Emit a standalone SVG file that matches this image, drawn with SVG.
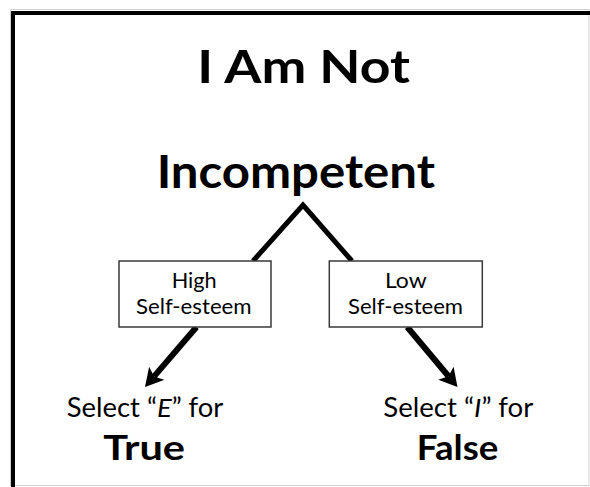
<svg xmlns="http://www.w3.org/2000/svg" width="590" height="487" viewBox="0 0 590 487">
  <style>
    .t { font-family: "Lato", "Open Sans", "Liberation Sans", sans-serif; fill: #000; }
    .title { font-size: 45px; font-weight: bold; }
    .box-text { font-size: 21px; }
    .sel { font-size: 26px; }
    .ans { font-size: 35px; font-weight: bold; }
    .box { fill: #fff; stroke: #3a3a3a; stroke-width: 1.5; }
    .conn { fill: none; stroke: #000; stroke-linecap: butt; }
  </style>
  <defs>
    <marker id="arrow" markerUnits="userSpaceOnUse" viewBox="0 -10 18 20" refX="4" refY="0" markerWidth="18" markerHeight="20" orient="auto">
      <path d="M0,-10 L18,0 L0,10 L4,0 Z" fill="#000"/>
    </marker>
  </defs>
  <rect width="590" height="487" fill="#fff"/>
  <!-- outer frame -->
  <rect x="10.5" y="9.5" width="578.5" height="476" fill="none" stroke="#cfcfcf" stroke-width="1"/>
  <rect x="13" y="13" width="640" height="520" fill="none" stroke="#000" stroke-width="4"/>

  <g id="connectors">
    <polyline class="conn" points="253,261 303,205 352,261" stroke-width="5" stroke-linejoin="miter"/>
    <line class="conn" x1="196.5" y1="327" x2="154.1" y2="376.4" stroke-width="6" marker-end="url(#arrow)"/>
    <line class="conn" x1="407.2" y1="327" x2="448.5" y2="376.3" stroke-width="6" marker-end="url(#arrow)"/>
  </g>

  <g id="title">
    <text class="t title" x="303.6" y="83.3" text-anchor="middle" textLength="212.7" lengthAdjust="spacingAndGlyphs">I Am Not</text>
    <text class="t title" x="295.8" y="188.3" text-anchor="middle" textLength="278.3" lengthAdjust="spacingAndGlyphs">Incompetent</text>
  </g>

  <g id="high-self-esteem">
    <rect class="box" x="119" y="261" width="152" height="66"/>
    <text class="t box-text" x="194.2" y="287.7" text-anchor="middle" textLength="45" lengthAdjust="spacingAndGlyphs">High</text>
    <text class="t box-text" x="193.8" y="314" text-anchor="middle" textLength="115.7" lengthAdjust="spacingAndGlyphs">Self-esteem</text>
  </g>

  <g id="low-self-esteem">
    <rect class="box" x="329.3" y="261" width="153" height="66"/>
    <text class="t box-text" x="405.8" y="287.7" text-anchor="middle" textLength="41.7" lengthAdjust="spacingAndGlyphs">Low</text>
    <text class="t box-text" x="405.5" y="314" text-anchor="middle" textLength="115" lengthAdjust="spacingAndGlyphs">Self-esteem</text>
  </g>

  <g id="true-result">
    <text class="t sel" x="66.7" y="416.7" textLength="156.6" lengthAdjust="spacingAndGlyphs">Select “<tspan font-style="italic">E</tspan>” for</text>
    <text class="t ans" x="103.3" y="460" textLength="81.7" lengthAdjust="spacingAndGlyphs">True</text>
  </g>

  <g id="false-result">
    <text class="t sel" x="383.3" y="416.7" textLength="150" lengthAdjust="spacingAndGlyphs">Select “<tspan font-style="italic">I</tspan>” for</text>
    <text class="t ans" x="416.7" y="460" textLength="81.6" lengthAdjust="spacingAndGlyphs">False</text>
  </g>
</svg>
